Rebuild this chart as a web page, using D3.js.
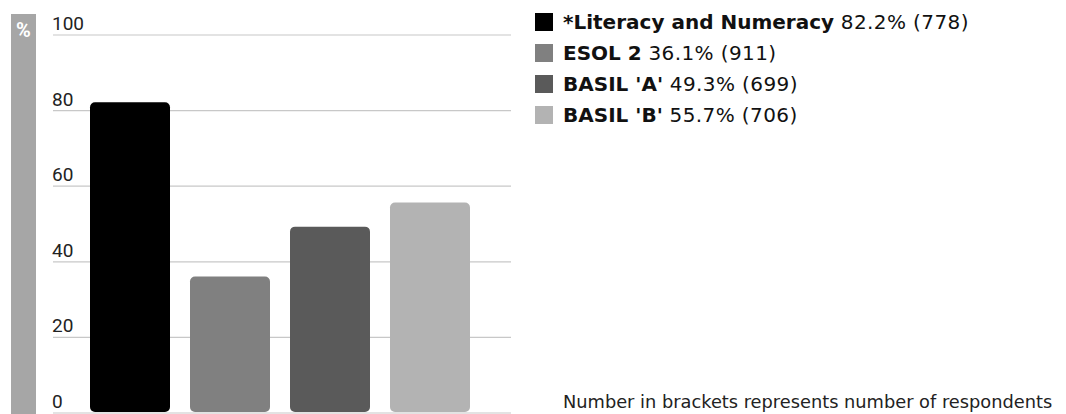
<!DOCTYPE html>
<html><head><meta charset="utf-8">
<script src="https://cdn.jsdelivr.net/npm/d3@7"></script>
<style>body{margin:0;background:#fff;}svg{display:block;font-family:Roboto,"Noto Sans",sans-serif;}</style>
</head><body>
<svg id="c" width="1066" height="414"></svg>
<script>
const categories = ["*Literacy and Numeracy", "ESOL 2", "BASIL 'A'", "BASIL 'B'"];
const values = [82.2, 36.1, 49.3, 55.7];
const respondents = [778, 911, 699, 706];
const colors = ["#000000", "#808080", "#5a5a5a", "#b3b3b3"];
const yTicks = [0, 20, 40, 60, 80, 100];
const unitLabel = "%";
const footnote = "Number in brackets represents number of respondents";

const svg = d3.select("#c");
const y = d3.scaleLinear().domain([0, 100]).range([413, 35]);
const x = d3.scaleBand().domain(categories).range([80, 480]).paddingInner(0.2).paddingOuter(0.1);

// unit band
svg.append("rect").attr("x", 11).attr("y", 14).attr("width", 25).attr("height", 400).attr("fill", "#a6a6a6");
svg.append("text").attr("x", 23.5).attr("y", 37).attr("text-anchor", "middle").attr("fill", "#fff")
  .attr("font-weight", "bold").attr("font-size", 20).text(unitLabel);

// grid
const g = svg.append("g");
g.selectAll("line.grid").data(yTicks).join("line")
  .attr("x1", 53).attr("x2", 511).attr("y1", d => y(d)).attr("y2", d => y(d))
  .attr("stroke", "#c8c8c8").attr("stroke-width", 1.2);
g.selectAll("text.tick").data(yTicks).join("text")
  .attr("x", 52).attr("y", d => y(d) - 5).attr("font-size", 19).attr("fill", "#222").text(d => d);

// bars
svg.selectAll("rect.bar").data(categories).join("rect")
  .attr("x", d => x(d)).attr("width", x.bandwidth())
  .attr("y", (d, i) => y(values[i])).attr("height", (d, i) => y(0) - y(values[i]) - 1)
  .attr("rx", 5).attr("ry", 5)
  .attr("fill", (d, i) => colors[i]);

// legend
const leg = svg.append("g").attr("font-family", "'DejaVu Sans', sans-serif");
categories.forEach((c, i) => {
  const cy = 22 + i * 31;
  leg.append("rect").attr("x", 535).attr("y", cy - 9).attr("width", 18).attr("height", 18).attr("fill", colors[i]);
  const t = leg.append("text").attr("x", 563).attr("y", cy + 7).attr("font-size", 20).attr("fill", "#111");
  t.append("tspan").attr("font-weight", "bold").text(c);
  t.append("tspan").attr("letter-spacing", 0.4).text(" " + values[i].toFixed(1) + "% (" + respondents[i] + ")");
});

svg.append("text").attr("x", 563).attr("y", 408).attr("font-size", 17.8)
  .attr("font-family", "'DejaVu Sans', sans-serif").attr("fill", "#222").text(footnote);
</script>
</body></html>
